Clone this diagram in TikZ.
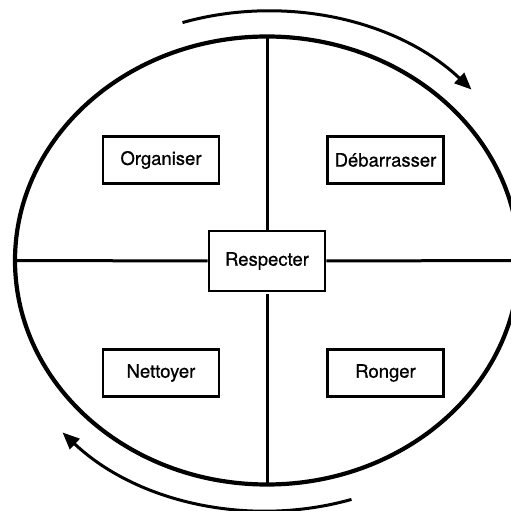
\documentclass[tikz,border=0pt]{standalone}
\usepackage{fontspec}
\setmainfont{TeX Gyre Heros}
\newfontfamily\stagefont{TeX Gyre Heros}[UprightFeatures={FakeBold=0.7}]
\usetikzlibrary{shapes.geometric, arrows.meta}

\tikzset{
  stage/.style={draw, line width=2.8pt, minimum width=116pt, minimum height=47pt,
    inner sep=0pt, font=\stagefont\fontsize{18.5}{22}\selectfont},
  cycle arrow/.style={line width=3pt, -{Triangle[length=17pt, width=14pt]}}
}

\begin{document}
\begin{tikzpicture}[x=1pt, y=1pt]

  \useasboundingbox (0, 0) rectangle (511, 511);

  % -- Outer ring --
  \node[draw, ellipse, line width=4.2pt, minimum width=504pt, minimum height=448pt,
    inner sep=0pt, outer sep=0pt] (ring) at (267, 250.5) {};

  % -- Centre --
  \node[stage, minimum height=60pt] (resp) at (267, 250) {Respecter};

  % -- Quadrants --
  \draw[line width=3pt] (ring.north) -- (resp.north);
  \draw[line width=3pt] (ring.south) -- ([yshift=-2pt]resp.south);
  \draw[line width=3pt] (ring.west) -- (resp.west);
  \draw[line width=3pt] (ring.east) -- (resp.east);

  \node[stage] (org) at (161, 351) {Organiser};
  \node[stage] (deb) at (385.5, 351) {Débarrasser};
  \node[stage] (net) at (161, 138) {Nettoyer};
  \node[stage] (ron) at (385.5, 138) {Ronger};

  % -- Rotation arrows --
  \draw[cycle arrow] (267, 250) ++(107.5:281pt and 250pt)
    arc[start angle=107.5, end angle=43.3, x radius=281pt, y radius=250pt];
  \draw[cycle arrow] (267, 250) ++(-72.5:281pt and 250pt)
    arc[start angle=-72.5, end angle=-136.7, x radius=281pt, y radius=250pt];

\end{tikzpicture}
\end{document}
